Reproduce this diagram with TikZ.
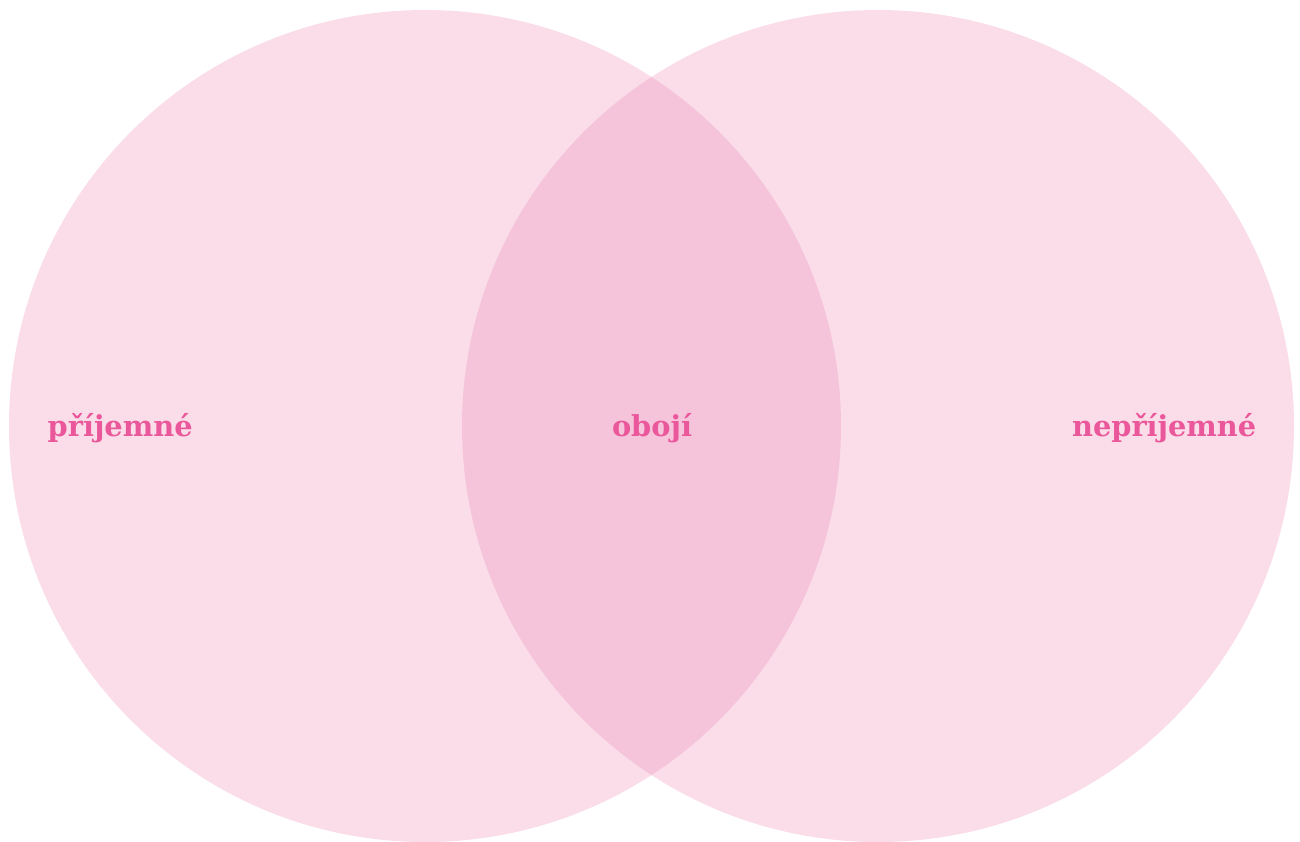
\documentclass[tikz,border=0pt]{standalone}
\usepackage{fontspec}
\setmainfont{DejaVu Serif}
\definecolor{setpink}{HTML}{FADDE8}
\definecolor{lenspink}{HTML}{F5C4DA}
\definecolor{labelpink}{HTML}{EA579B}
\tikzset{
  setlabel/.style={text=labelpink, font=\fontsize{8.2}{10}\selectfont\bfseries, inner sep=0pt}
}

\begin{document}
\begin{tikzpicture}[x=0.01cm, y=-0.01cm]
  \useasboundingbox (0,0) rectangle (1300,841);
  \clip (0,0) rectangle (1300,841);
  % the two sets
  \fill[setpink] (425,426) circle[radius=416];
  \fill[setpink] (878,426) circle[radius=416];
  % overlap
  \begin{scope}
    \clip (425,426) circle[radius=416];
    \fill[lenspink] (878,426) circle[radius=416];
  \end{scope}
  % labels
  \node[setlabel, anchor=west] (pleasant) at (47,428) {příjemné};
  \node[setlabel] (both) at (652,428) {obojí};
  \node[setlabel, anchor=east] (unpleasant) at (1257,428) {nepříjemné};
\end{tikzpicture}
\end{document}
